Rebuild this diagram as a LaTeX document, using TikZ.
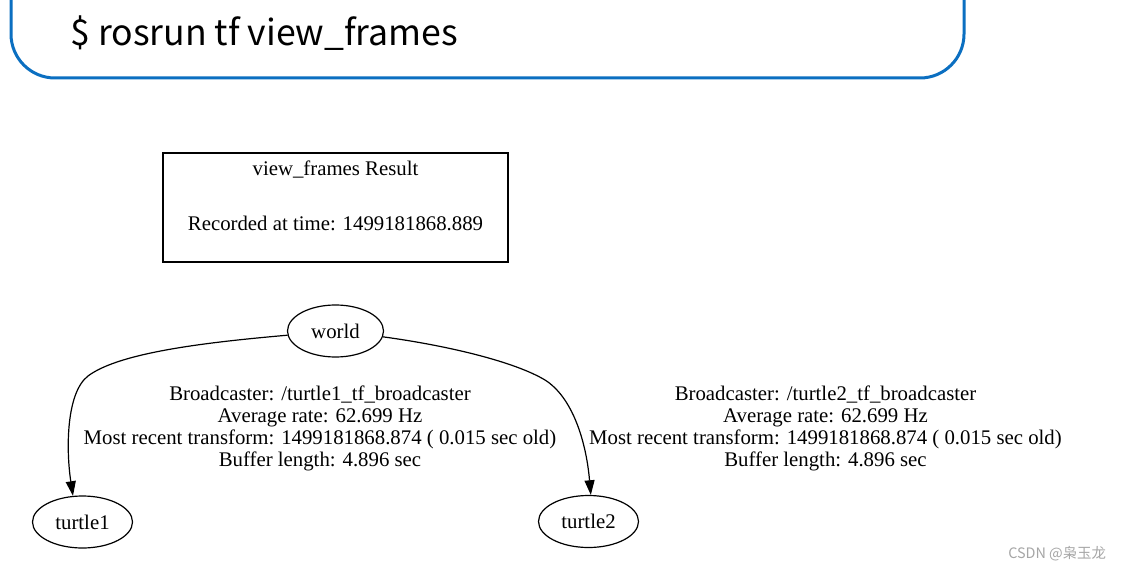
\documentclass[tikz,border=0pt]{standalone}
\usepackage{fontspec}
\setmainfont{Liberation Serif}
\newfontfamily\cmdfont{Noto Sans CJK SC}
\newfontfamily\cjk{Noto Sans CJK SC}
\usepackage{xcolor}
\usepackage{tikz}
\usetikzlibrary{shapes.geometric,arrows.meta}
\definecolor{bg}{HTML}{FFFFFF}
\definecolor{ink}{HTML}{000000}
\definecolor{cmdblue}{HTML}{0B6FC1}
\definecolor{muted}{HTML}{A6A6A6}
\newcommand\gvfont{\fontsize{15.6}{16.6}\selectfont}
\tikzset{
  cmd/.style={draw=cmdblue, line width=2.25pt, rounded corners=33pt},
  cmdtext/.style={anchor=base west, inner sep=0pt, font=\cmdfont\fontsize{26.7}{30}\selectfont},
  res/.style={draw=ink, line width=2pt, minimum width=258.75pt, minimum height=81.75pt, inner sep=0pt},
  frame/.style={draw=ink, ellipse, line width=0.9pt, inner sep=0pt, minimum height=39pt, font=\gvfont},
  link/.style={draw=ink, line width=0.9pt, -{Triangle[length=11pt,width=7.5pt]}},
  lab/.style={text=ink, font=\gvfont, align=center, inner sep=0pt},
  labm/.style={text=muted, font=\cjk\fontsize{10.8}{12}\selectfont, inner sep=0pt}
}

\begin{document}
\begin{tikzpicture}[x=0.75pt,y=-0.75pt]
  \useasboundingbox[fill=bg] (0,0) rectangle (1123,570);
  \draw[cmd] (11,-40) -- (11,78) -- (964,78) -- (964,-40);
  \node[cmdtext] (cmdline) at (70,46) {\$ rosrun tf view\_frames};

  \node[res] (result) at (335.5,207.5) {};
  \node[lab] (title) at (335.5,169.5) {view\_frames Result};
  \node[lab] (stamp) at (335.5,223) {Recorded at time: 1499181868.889};

  \node[frame, minimum width=72pt] (world) at (335.5,331) {world};
  \node[frame, minimum width=75pt] (turtle1) at (82.5,522) {turtle1};
  \node[frame, minimum width=75pt] (turtle2) at (588.5,521.5) {turtle2};

  \draw[link] (world.185) .. controls (210,342) and (120,352) .. (88,376)
    .. controls (66,393) and (66,450) .. (turtle1.110);
  \draw[link] (world.353) .. controls (450,346) and (515,362) .. (545,380)
    .. controls (572,397) and (586,440) .. (turtle2.85);

  \node[lab] (info1) at (320,428.5) {Broadcaster: /turtle1\_tf\_broadcaster\\Average rate: 62.699 Hz\\Most recent transform: 1499181868.874 ( 0.015 sec old)\\Buffer length: 4.896 sec};
  \node[lab] (info2) at (825.5,428.5) {Broadcaster: /turtle2\_tf\_broadcaster\\Average rate: 62.699 Hz\\Most recent transform: 1499181868.874 ( 0.015 sec old)\\Buffer length: 4.896 sec};

  \node[labm, anchor=west] (mark) at (1008,553.5) {CSDN @枭玉龙};
\end{tikzpicture}
\end{document}
